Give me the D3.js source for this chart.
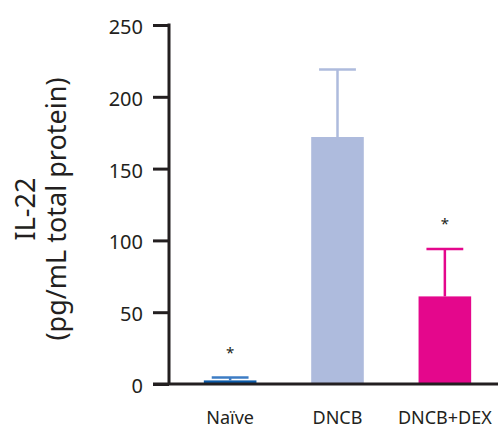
<!DOCTYPE html>
<html lang="en">
<head>
	<meta charset="UTF-8"/>
	<title>IL-22 bar chart</title>
	<script src="https://d3js.org/d3.v7.min.js"></script>
	<style>
		body { margin: 0; background: #fff; }
		text { font-family: "Noto Sans", sans-serif; fill: #231f20; }
	</style>
</head>
<body>
	<script>
		var w = 499;
		var h = 431;

		var groups = ["Naïve", "DNCB", "DNCB+DEX"];
		var means = [2.5, 172, 61];
		var errors = [2, 47, 33];
		var marked = [true, false, true];
		var colors = ["#0b5aa8", "#aebbdd", "#e4078c"];
		var errColors = ["#3d7cc4", "#aebbdd", "#e4078c"];
		var yTicks = [0, 50, 100, 150, 200, 250];

		var data = groups.map(function(g, i) {
			return { name: g, mean: means[i], err: errors[i], star: marked[i], color: colors[i], errColor: errColors[i] };
		});

		var xScale = d3.scaleBand()
			.domain(groups)
			.range([177, 498])
			.paddingInner(0.51)
			.paddingOuter(0.25);

		var yScale = d3.scaleLinear()
			.domain([0, 250])
			.range([384, 25]);

		var svg = d3.select("body")
			.append("svg")
			.attr("width", w)
			.attr("height", h);

		// bars
		svg.selectAll("rect.bar")
			.data(data)
			.enter()
			.append("rect")
			.attr("class", "bar")
			.attr("x", function(d) { return xScale(d.name); })
			.attr("y", function(d) { return yScale(d.mean); })
			.attr("width", xScale.bandwidth())
			.attr("height", function(d) { return yScale(0) - yScale(d.mean); })
			.attr("fill", function(d) { return d.color; });

		// error bars (upper only)
		var capW = xScale.bandwidth() * 0.7;
		var eb = svg.selectAll("g.err")
			.data(data)
			.enter()
			.append("g")
			.attr("class", "err")
			.attr("stroke", function(d) { return d.errColor; })
			.attr("stroke-width", 2.5);

		eb.append("line")
			.attr("x1", function(d) { return xScale(d.name) + xScale.bandwidth() / 2; })
			.attr("x2", function(d) { return xScale(d.name) + xScale.bandwidth() / 2; })
			.attr("y1", function(d) { return yScale(d.mean); })
			.attr("y2", function(d) { return yScale(d.mean + d.err); });

		eb.append("line")
			.attr("x1", function(d) { return xScale(d.name) + xScale.bandwidth() / 2 - capW / 2; })
			.attr("x2", function(d) { return xScale(d.name) + xScale.bandwidth() / 2 + capW / 2; })
			.attr("y1", function(d) { return yScale(d.mean + d.err); })
			.attr("y2", function(d) { return yScale(d.mean + d.err); });

		// significance stars
		svg.selectAll("text.star")
			.data(data.filter(function(d) { return d.star; }))
			.enter()
			.append("text")
			.attr("class", "star")
			.attr("x", function(d) { return xScale(d.name) + xScale.bandwidth() / 2; })
			.attr("y", function(d) { return yScale(d.mean + d.err) - 20; })
			.attr("text-anchor", "middle")
			.style("font-size", "15px")
			.text("*");

		// y axis
		var yAxis = d3.axisLeft(yScale)
			.tickValues(yTicks)
			.tickSize(16)
			.tickPadding(10);

		var gy = svg.append("g")
			.attr("transform", "translate(169,0)")
			.call(yAxis);
		gy.select(".domain").remove();
		gy.selectAll(".tick line").attr("stroke", "#231f20").attr("stroke-width", 3);
		gy.selectAll(".tick text")
			.style("font-size", "20px")
			.style("font-family", "'Noto Sans', sans-serif")
			.attr("fill", "#231f20")
			.attr("dy", "0.42em");

		svg.append("line")
			.attr("x1", 169).attr("x2", 169)
			.attr("y1", yScale(250) - 1.5).attr("y2", yScale(0))
			.attr("stroke", "#231f20")
			.attr("stroke-width", 3);

		// x axis
		var xAxis = d3.axisBottom(xScale)
			.tickSize(0)
			.tickPadding(27);

		var gx = svg.append("g")
			.attr("transform", "translate(0," + yScale(0) + ")")
			.call(xAxis);
		gx.select(".domain").remove();
		gx.selectAll(".tick text")
			.style("font-size", "18px")
			.style("font-family", "'Noto Sans', sans-serif")
			.attr("fill", "#231f20");

		svg.append("line")
			.attr("x1", 153).attr("x2", 498)
			.attr("y1", yScale(0)).attr("y2", yScale(0))
			.attr("stroke", "#231f20")
			.attr("stroke-width", 3);

		// y label
		var yl = svg.append("text")
			.attr("transform", "translate(0,209) rotate(-90)")
			.attr("text-anchor", "middle")
			.style("font-size", "27px");
		yl.append("tspan").attr("x", 0).attr("y", 35).text("IL-22");
		yl.append("tspan").attr("x", 0).attr("y", 66).text("(pg/mL total protein)");
	</script>
</body>
</html>
